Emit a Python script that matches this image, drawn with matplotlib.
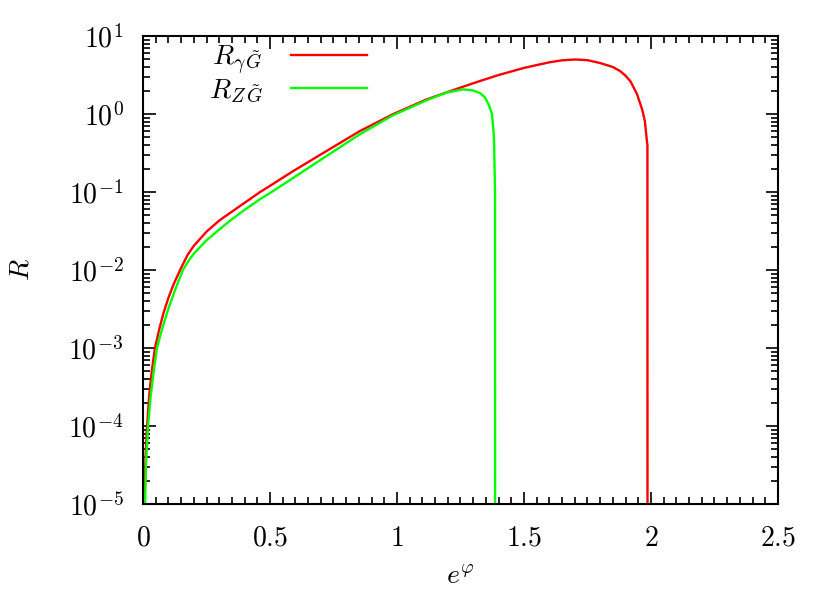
import matplotlib
matplotlib.use("Agg")
import matplotlib.pyplot as plt
from matplotlib.ticker import MultipleLocator, LogLocator, NullFormatter

plt.rcParams['mathtext.fontset'] = 'cm'
plt.rcParams['font.family'] = ['DejaVu Serif']

# ---- data ----
v_red = [0.006, 0.010, 0.016, 0.025, 0.035, 0.047, 0.065, 0.08, 0.1, 0.12, 0.146,
         0.175, 0.2, 0.25, 0.3, 0.35, 0.421, 0.461, 0.5, 0.592, 0.723, 0.854, 0.986,
         1.117, 1.248, 1.327, 1.4, 1.5, 1.6, 1.65, 1.7, 1.75, 1.8, 1.85, 1.878, 1.9,
         1.92, 1.945, 1.965, 1.976, 1.984, 1.986, 1.9865]
r_red = [1e-5, 4e-5, 1e-4, 2.6e-4, 5.2e-4, 1e-3, 1.8e-3, 2.75e-3, 4.4e-3, 6.5e-3, 1e-2,
         0.0155, 0.0204, 0.031, 0.043, 0.056, 0.081, 0.1, 0.12, 0.186, 0.336, 0.605, 1.0,
         1.54, 2.17, 2.65, 3.16, 3.9, 4.6, 4.88, 5.0, 4.9, 4.5, 4.0, 3.56, 3.1,
         2.6, 1.8, 1.15, 0.81, 0.45, 0.4, 1e-8]

v_green = [0.008, 0.012, 0.02, 0.03, 0.042, 0.055, 0.075, 0.1, 0.125, 0.157, 0.18, 0.2,
           0.25, 0.3, 0.35, 0.4, 0.461, 0.5, 0.592, 0.723, 0.854, 0.986, 1.117, 1.194,
           1.261, 1.3, 1.327, 1.345, 1.36, 1.374, 1.382, 1.386, 1.3865]
r_green = [1e-5, 3.5e-5, 1e-4, 2.4e-4, 5e-4, 1e-3, 1.75e-3, 3.2e-3, 5.4e-3, 1e-2, 0.0132, 0.0162,
           0.024, 0.033, 0.0447, 0.059, 0.081, 0.097, 0.152, 0.29, 0.55, 0.97, 1.5, 1.88,
           2.07, 2.0, 1.85, 1.65, 1.35, 1.0, 0.49, 0.1, 1e-8]

labels = [r'$R_{\gamma\,\tilde{G}}$', r'$R_{Z\,\tilde{G}}$']
colors = ['#ff0000', '#00ff00']

x_ticks = [0, 0.5, 1, 1.5, 2, 2.5]
x_tick_labels = ['0', '0.5', '1', '1.5', '2', '2.5']
y_exps = [-5, -4, -3, -2, -1, 0, 1]

fig = plt.figure(figsize=(8.3, 5.98), dpi=100)
ax = fig.add_axes([0.1723, 0.1572, 0.765, 0.7826])

ax.plot(v_red, r_red, color=colors[0], lw=1.7, label=labels[0])
ax.plot(v_green, r_green, color=colors[1], lw=1.7, label=labels[1])

ax.set_yscale('log')
ax.set_xlim(0, 2.5)
ax.set_ylim(1e-5, 10)

ax.set_xticks(x_ticks)
ax.set_xticklabels(['$' + s + '$' for s in x_tick_labels])
ax.xaxis.set_minor_locator(MultipleLocator(0.05))
ax.set_yticks([10.0 ** e for e in y_exps])
ax.set_yticklabels([r'$10^{%d}$' % e for e in y_exps])
ax.yaxis.set_minor_locator(LogLocator(base=10, subs=range(2, 10), numticks=20))
ax.yaxis.set_minor_formatter(NullFormatter())

ax.tick_params(which='both', direction='in', top=True, right=True, width=1.2)
ax.tick_params(which='major', length=9, labelsize=20)
ax.tick_params(axis='x', which='major', pad=15)
ax.tick_params(axis='y', which='major', pad=14)
ax.tick_params(which='minor', length=5)
for s in ax.spines.values():
    s.set_linewidth(1.5)

ax.set_xlabel(r'$e^{\varphi}$', fontsize=20, labelpad=8)
ax.set_ylabel(r'$R$', fontsize=20, labelpad=24)

leg = ax.legend(loc='upper left', bbox_to_anchor=(0.086, 1.008), frameon=False,
                markerfirst=False, fontsize=20, handlelength=2.75, handletextpad=1.0,
                labelspacing=0.0, borderaxespad=0)

fig.savefig('out.png', dpi=100)
